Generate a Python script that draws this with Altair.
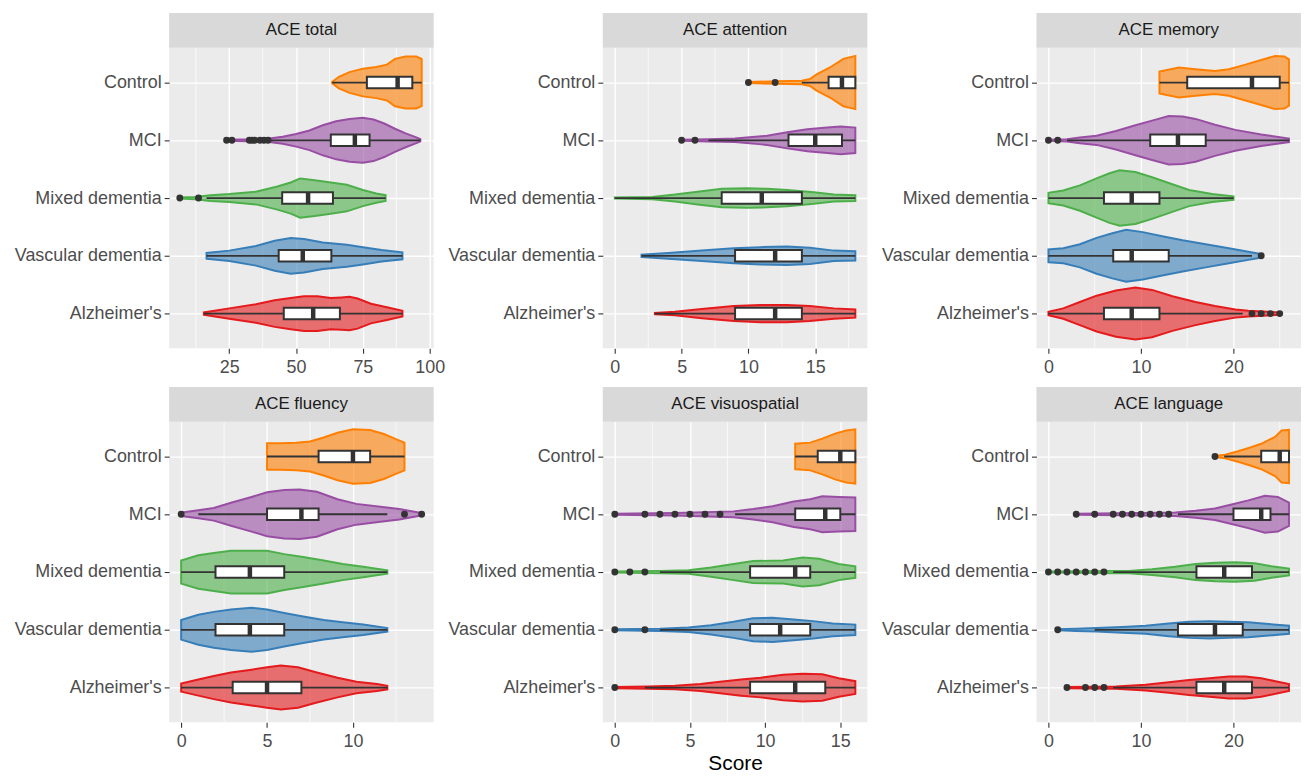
import json
import pandas as pd
import altair as alt

# ---------------- data ----------------
groups = ["Alzheimer's", "Vascular dementia", "Mixed dementia", "MCI", "Control"]  # bottom -> top
group_colors = ["#E41A1C", "#377EB8", "#4DAF4A", "#984EA3", "#FF7F00"]

panel_titles = ["ACE total", "ACE attention", "ACE memory",
                "ACE fluency", "ACE visuospatial", "ACE language"]
x_domains = [[2.5, 101.5], [-0.9, 18.9], [-1.3, 27.3],
             [-0.7, 14.7], [-0.8, 16.8], [-1.3, 27.3]]
major_ticks = [[25, 50, 75, 100], [0, 5, 10, 15], [0, 10, 20],
               [0, 5, 10], [0, 5, 10, 15], [0, 10, 20]]
minor_ticks = [[12.5, 37.5, 62.5, 87.5], [2.5, 7.5, 12.5, 17.5], [5, 15, 25],
               [2.5, 7.5, 12.5], [2.5, 7.5, 12.5], [5, 15, 25]]

# violin outlines: (score, half-width as fraction of row spacing)
total_violin = {
    "Control": [(63.5, .01), (66, .10), (70, .18), (75, .24), (80, .27), (84, .31), (87, .41), (91, .45), (95, .45), (97, .41)],
    "MCI": [(24, .01), (35, .02), (40, .03), (45, .06), (50, .11), (55, .17), (60, .26), (65, .33), (70, .37), (75, .39), (79, .36), (83, .29), (87, .20), (91, .12), (95, .05), (96.5, .02)],
    "Mixed dementia": [(6.5, .01), (12, .02), (18, .05), (25, .07), (35, .11), (43, .20), (48, .27), (51.5, .34), (57, .31), (63, .27), (69, .23), (75, .14), (80, .08), (83.5, .05)],
    "Vascular dementia": [(16.5, .05), (25, .09), (35, .17), (42, .26), (48, .31), (53, .29), (60, .23), (69, .19), (75, .15), (82, .10), (89.8, .06)],
    "Alzheimer's": [(15.5, .02), (25, .09), (35, .16), (42, .23), (48, .27), (53, .30), (58, .30), (63, .27), (67, .28), (70, .29), (73, .26), (78, .17), (84, .11), (89.8, .05)],
}
attention_violin = {
    "Control": [(10, .01), (12, .02), (14, .03), (14.6, .06), (15.1, .14), (16.1, .26), (17.1, .41), (18, .46)],
    "MCI": [(5, .01), (7, .02), (9, .03), (11.4, .08), (12.9, .14), (14.4, .19), (15.9, .22), (16.9, .24), (18, .22)],
    "Mixed dementia": [(0, .01), (2.8, .02), (4.5, .06), (6.2, .11), (8, .16), (9.9, .17), (11.4, .16), (12.9, .14), (14.9, .10), (16.4, .06), (18, .05)],
    "Vascular dementia": [(2, .02), (4, .05), (6.5, .09), (8.9, .13), (10.9, .15), (12.9, .16), (14.6, .14), (16.4, .09), (18, .08)],
    "Alzheimer's": [(3, .01), (4.5, .03), (6.5, .08), (8.9, .13), (10.9, .15), (12.9, .15), (14.6, .13), (16.4, .09), (18, .07)],
}
memory_violin = {
    "Control": [(12, .19), (14.1, .26), (15.9, .23), (18, .20), (19.5, .23), (21.3, .31), (23, .39), (24.5, .46), (25.5, .45), (26, .40)],
    "MCI": [(0, .01), (2, .02), (3.4, .05), (5.2, .08), (7.3, .16), (9.4, .26), (11.2, .34), (13, .42), (14.5, .41), (15.9, .37), (18, .27), (20.2, .18), (23, .10), (26, .03)],
    "Mixed dementia": [(0, .09), (1.6, .13), (3.4, .22), (5.2, .34), (6.6, .43), (7.7, .48), (9.4, .45), (11.2, .36), (13, .26), (15.2, .14), (17.7, .07), (20, .03)],
    "Vascular dementia": [(0, .11), (1.6, .13), (3.4, .20), (5.2, .31), (6.9, .39), (8.4, .45), (10.2, .41), (12.3, .34), (14.5, .27), (17, .20), (19.5, .13), (21.6, .07), (23, .03)],
    "Alzheimer's": [(0, .03), (1.6, .09), (3.4, .20), (5.2, .31), (7.3, .40), (9.4, .45), (11.2, .41), (13.4, .30), (15.9, .20), (18, .13), (20.2, .07), (21.6, .05), (25, .02)],
}
fluency_violin = {
    "Control": [(5, .23), (5.8, .23), (6.7, .24), (7.5, .26), (8.3, .33), (9.1, .41), (10, .47), (11, .46), (11.8, .39), (12.5, .30), (13, .24)],
    "MCI": [(0, .03), (1, .07), (1.9, .11), (2.9, .20), (4.1, .30), (5, .38), (6, .42), (6.9, .43), (7.9, .39), (9.1, .26), (10.2, .18), (11.6, .13), (12.7, .09), (14, .02)],
    "Mixed dementia": [(0, .20), (1, .29), (1.9, .33), (2.9, .37), (4.1, .37), (5, .37), (6, .31), (7.1, .26), (8.3, .20), (9.4, .14), (10.6, .09), (12, .03)],
    "Vascular dementia": [(0, .17), (1, .26), (1.9, .31), (2.9, .35), (4.1, .38), (5, .35), (6, .29), (7.1, .23), (8.3, .17), (9.4, .13), (10.6, .09), (12, .03)],
    "Alzheimer's": [(0, .07), (1, .14), (1.9, .20), (2.9, .26), (4.1, .31), (5, .35), (5.8, .38), (6.8, .35), (7.9, .26), (9.1, .17), (10.2, .10), (11.4, .06), (12, .03)],
}
visuospatial_violin = {
    "Control": [(12, .22), (13, .24), (13.8, .31), (14.7, .40), (15.4, .45), (16, .47)],
    "MCI": [(0, .01), (4, .02), (7.9, .05), (9.2, .09), (10.5, .14), (11.9, .22), (13, .26), (13.8, .31), (14.9, .30), (16, .29)],
    "Mixed dementia": [(0, .01), (3, .02), (4.9, .03), (6.4, .08), (7.9, .14), (9.2, .19), (11.2, .20), (12.5, .25), (13.6, .23), (14.9, .14), (16, .10)],
    "Vascular dementia": [(0, .01), (3, .02), (4.9, .04), (6.4, .08), (7.9, .14), (9.2, .20), (10.5, .21), (11.9, .18), (13.2, .15), (14.5, .11), (16, .09)],
    "Alzheimer's": [(0, .01), (2.2, .02), (4, .03), (5.7, .06), (7, .10), (8.4, .14), (9.7, .17), (11.2, .22), (12.5, .24), (13.8, .23), (14.9, .16), (16, .11)],
}
language_violin = {
    "Control": [(18, .01), (19.1, .03), (20.5, .09), (21.9, .16), (23, .22), (24.5, .34), (25.2, .45), (26, .46)],
    "MCI": [(3, .01), (10, .02), (13.7, .03), (15.9, .06), (18, .10), (19.8, .17), (21.6, .24), (23.4, .32), (24.8, .30), (26, .20)],
    "Mixed dementia": [(0, .01), (7, .02), (8.7, .02), (11.2, .05), (13.7, .09), (15.9, .14), (18, .16), (20.2, .17), (22.3, .15), (24.1, .10), (26, .06)],
    "Vascular dementia": [(1, .01), (3, .02), (5.2, .03), (8, .05), (10.5, .07), (13, .11), (15.2, .14), (17.4, .15), (19.5, .14), (21.6, .13), (23.8, .10), (26, .07)],
    "Alzheimer's": [(2, .01), (7.3, .02), (10.5, .05), (13, .09), (15.2, .13), (17.4, .16), (19.5, .19), (21.3, .19), (23, .16), (24.8, .10), (26, .06)],
}

# boxplot stats: (lower whisker, Q1, median, Q3, upper whisker)
total_box = {"Control": (63.5, 76.5, 88, 93.5, 97), "MCI": (40, 63, 72, 77.5, 96.5),
             "Mixed dementia": (16.5, 44.8, 54.5, 63.8, 83.5), "Vascular dementia": (16.5, 43.5, 52.5, 63.2, 89.8),
             "Alzheimer's": (15.5, 45.4, 56.4, 66.4, 89.8)}
attention_box = {"Control": (14, 16, 17, 18, 18), "MCI": (7, 13, 15, 17, 18),
                 "Mixed dementia": (0, 8, 11, 14, 18), "Vascular dementia": (2, 9, 12, 14, 18),
                 "Alzheimer's": (3, 9, 12, 14, 18)}
memory_box = {"Control": (12, 15, 22, 25, 26), "MCI": (2, 11, 14, 17, 26),
              "Mixed dementia": (0, 6, 9, 12, 20), "Vascular dementia": (0, 7, 9, 13, 22),
              "Alzheimer's": (0, 6, 9, 12, 21)}
fluency_box = {"Control": (5, 8, 10, 11, 13), "MCI": (1, 5, 7, 8, 12),
               "Mixed dementia": (0, 2, 4, 6, 12), "Vascular dementia": (0, 2, 4, 6, 12),
               "Alzheimer's": (0, 3, 5, 7, 12)}
visuospatial_box = {"Control": (12, 13.5, 15, 16, 16), "MCI": (8, 12, 14, 15, 16),
                    "Mixed dementia": (3, 9, 12, 13, 16), "Vascular dementia": (3, 9, 11, 13, 16),
                    "Alzheimer's": (2, 9, 12, 14, 16)}
language_box = {"Control": (19, 23, 25, 26, 26), "MCI": (14, 20, 23, 24, 26),
                "Mixed dementia": (7, 16, 19, 22, 26), "Vascular dementia": (5, 14, 18, 21, 26),
                "Alzheimer's": (7, 16, 19, 22, 26)}

# outliers
total_out = {"MCI": [24, 26, 32.5, 33.5, 34.5, 36.5, 38, 39.5], "Mixed dementia": [6.5, 13.5]}
attention_out = {"Control": [10, 12], "MCI": [5, 6]}
memory_out = {"MCI": [0, 1], "Vascular dementia": [23], "Alzheimer's": [22, 23, 24, 25]}
fluency_out = {"MCI": [0, 13, 14]}
visuospatial_out = {"MCI": [0, 2, 3, 4, 5, 6, 7], "Mixed dementia": [0, 1, 2], "Vascular dementia": [0, 2],
                    "Alzheimer's": [0]}
language_out = {"Control": [18], "MCI": [3, 5, 7, 8, 9, 10, 11, 12, 13],
                "Mixed dementia": [0, 1, 2, 3, 4, 5, 6], "Vascular dementia": [1], "Alzheimer's": [2, 4, 5, 6]}

# ---------------- styling ----------------
W, H = 266, 302
STRIP = 35
FONT = "Liberation Sans"
BOX_HALF = 0.1
DARK = "#333333"

yscale = alt.Scale(domain=[0.4, 5.6], nice=False, zero=False)
cscale = alt.Scale(domain=groups, range=group_colors)
label_expr = json.dumps([""] + groups) + "[datum.value]"

yaxis = alt.Axis(values=[1, 2, 3, 4, 5], labelExpr=label_expr, title=None, grid=True,
                 gridColor="white", gridWidth=1.4, domain=False, tickColor=DARK, tickSize=5,
                 tickWidth=1.1, labelColor="#4D4D4D", labelFont=FONT, labelFontSize=18,
                 labelPadding=3, minExtent=157, maxExtent=157)


def make_panel(i, violin, box, outliers, x_title=None):
    xs = alt.Scale(domain=x_domains[i], nice=False, zero=False)
    common = dict(values=major_ticks[i], grid=True, gridColor="white", gridWidth=1.4, domain=False,
                  tickColor=DARK, tickSize=5, tickWidth=1.1, labelColor="#4D4D4D", labelFont=FONT,
                  labelFontSize=18, labelPadding=5, labelFlush=False, minExtent=28, maxExtent=28)
    if x_title:
        xaxis = alt.Axis(title=x_title, titleFont=FONT, titleFontSize=21, titleFontWeight="normal",
                         titleColor="black", titlePadding=3, **common)
    else:
        xaxis = alt.Axis(title=None, **common)

    def X(f):
        return alt.X(f, scale=xs, axis=xaxis)

    def Y(f):
        return alt.Y(f, scale=yscale, axis=yaxis)

    vrows, brows, orows = [], [], []
    for g, pts in violin.items():
        k = groups.index(g) + 1
        for s, w in pts:
            vrows.append({"group": g, "score": s, "lo": k - w, "hi": k + w})
    for g, (wl, q1, md, q3, wh) in box.items():
        k = groups.index(g) + 1
        brows.append({"group": g, "k": k, "wlo": wl, "q1": q1, "med": md, "q3": q3, "whi": wh,
                      "blo": k - BOX_HALF, "bhi": k + BOX_HALF})
    for g, vals in outliers.items():
        k = groups.index(g) + 1
        for v in vals:
            orows.append({"group": g, "score": v, "k": k})
    dv, db = pd.DataFrame(vrows), pd.DataFrame(brows)
    do = pd.DataFrame(orows) if orows else pd.DataFrame({"group": [], "score": [], "k": []})
    dm = pd.DataFrame({"m": minor_ticks[i]})
    dt = pd.DataFrame({"t": [panel_titles[i]]})

    minor = alt.Chart(dm).mark_rule(color="white", strokeWidth=0.7).encode(
        x=X("m:Q"), y=alt.value(0), y2=alt.value(H))
    vio = alt.Chart(dv).mark_area(orient="vertical", fillOpacity=0.6, strokeWidth=2).encode(
        x=X("score:Q"), y=Y("lo:Q"), y2="hi:Q",
        fill=alt.Fill("group:N", scale=cscale, legend=None),
        stroke=alt.Stroke("group:N", scale=cscale, legend=None))
    whisk = alt.Chart(db).mark_rule(color=DARK, strokeWidth=1.8).encode(
        x=X("wlo:Q"), x2="whi:Q", y=Y("k:Q"))
    boxes = alt.Chart(db).mark_rect(fill="white", stroke=DARK, strokeWidth=2).encode(
        x=X("q1:Q"), x2="q3:Q", y=Y("blo:Q"), y2="bhi:Q")
    meds = alt.Chart(db).mark_rule(color=DARK, strokeWidth=4.5).encode(
        x=X("med:Q"), y=Y("blo:Q"), y2="bhi:Q")
    pts = alt.Chart(do).mark_circle(size=48, color=DARK, opacity=1).encode(
        x=X("score:Q"), y=Y("k:Q"))
    strip = alt.Chart(dt).mark_rect(fill="#D9D9D9").encode(
        x=alt.value(0), x2=alt.value(W), y=alt.value(-STRIP), y2=alt.value(0))
    stext = alt.Chart(dt).mark_text(font=FONT, fontSize=17, color="#1A1A1A", baseline="middle",
                                    align="center").encode(
        x=alt.value(W / 2), y=alt.value(-STRIP / 2), text="t:N")
    return alt.layer(minor, vio, whisk, boxes, meds, pts, strip, stext).properties(width=W, height=H)


p1 = make_panel(0, total_violin, total_box, total_out)
p2 = make_panel(1, attention_violin, attention_box, attention_out)
p3 = make_panel(2, memory_violin, memory_box, memory_out)
p4 = make_panel(3, fluency_violin, fluency_box, fluency_out)
p5 = make_panel(4, visuospatial_violin, visuospatial_box, visuospatial_out, x_title="Score")
p6 = make_panel(5, language_violin, language_box, language_out)

chart = alt.concat(p1, p2, p3, p4, p5, p6, columns=3,
                   spacing={"row": 74, "column": 170}, bounds="flush").properties(
    padding={"left": 5, "top": 3, "right": 0, "bottom": 0}
).configure_view(fill="#EBEBEB", stroke=None)

chart.save("out.html", embed_options={"renderer": "svg", "actions": False})
